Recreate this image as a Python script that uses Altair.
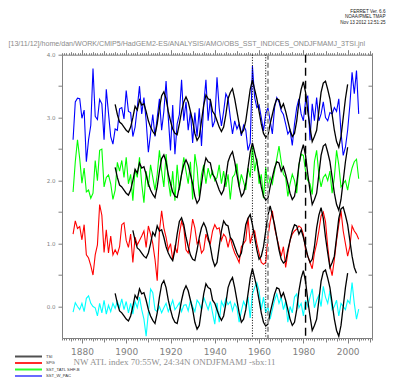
import altair as alt
import pandas as pd

# ---------------- data ----------------
first_year = 1876
sst_w_pac = [2.65, 3.25, 3.31, 3.30,
             2.99, 3.12, 2.30, 2.65, 2.88, 3.78, 3.02, 2.97, 3.29, 3.22,
             2.65, 3.45, 3.07, 2.70, 2.58, 2.82, 2.80, 3.14, 3.16, 2.98,
             3.43, 3.10, 3.08, 2.70, 2.85, 3.16, 3.50, 3.06, 3.32, 2.95,
             2.45, 2.75, 3.05, 2.70, 3.00, 3.30, 2.80, 3.10, 3.58, 3.00,
             2.48, 3.20, 2.42, 2.90, 3.05, 3.60, 2.95, 3.25, 2.80, 3.10,
             2.60, 3.08, 2.70, 3.15, 2.55, 3.20, 3.60, 2.95, 3.30, 2.85,
             2.95, 3.64, 3.15, 2.87, 3.10, 3.38, 3.30, 3.00, 2.74, 2.95,
             2.82, 2.90, 2.71, 2.88, 2.80, 2.48, 2.60, 3.82, 3.32, 3.16,
             3.20, 3.00, 2.79, 3.06, 3.16, 2.95, 2.74, 3.16, 3.32, 3.25,
             3.11, 3.05, 2.90, 2.74, 2.80, 2.56, 2.90, 3.16, 3.30, 3.06,
             2.95, 3.27, 3.35, 2.64, 3.22, 2.95, 3.32, 2.95, 3.06, 3.25,
             3.00, 2.95, 3.08, 3.06, 3.16, 3.10, 3.30, 2.77, 2.40, 2.53,
             2.80, 3.20, 3.72, 3.38, 3.75, 3.06]
sst_tatl = [1.82, 2.30, 2.65, 2.35,
            1.96, 2.20, 1.82, 1.85, 1.72, 1.80, 2.32, 2.00, 2.48, 2.50,
            1.90, 2.05, 2.09, 1.95, 1.70, 1.85, 2.29, 2.15, 2.32, 2.05,
            2.37, 1.95, 2.10, 1.68, 2.18, 2.05, 2.37, 1.95, 1.65, 2.15,
            1.90, 2.25, 2.05, 1.85, 2.10, 2.48, 2.15, 1.90, 2.42, 2.00,
            1.75, 2.15, 1.68, 2.25, 1.85, 2.10, 2.37, 2.15, 1.95, 2.30,
            1.70, 2.42, 2.20, 1.75, 2.10, 2.25, 1.95, 2.20, 2.05, 2.15,
            2.00, 2.05, 2.25, 1.95, 2.15, 1.90, 2.10, 1.70, 2.05, 2.10,
            2.27, 1.90, 2.10, 1.98, 1.85, 2.20, 2.05, 2.55, 2.15, 2.35,
            1.95, 2.10, 1.72, 2.21, 1.88, 2.05, 1.95, 2.15, 2.35, 2.55,
            2.30, 2.10, 2.05, 1.75, 1.95, 2.10, 2.00, 1.80, 2.25, 2.42,
            2.40, 2.15, 2.00, 1.95, 1.78, 2.30, 2.48, 2.10, 1.90, 2.05,
            2.10, 2.00, 2.15, 1.80, 2.05, 2.48, 2.25, 1.90, 1.95, 2.00,
            1.85, 2.05, 2.20, 2.30, 2.34, 2.03]
spg = [1.15, 1.36, 1.24, 1.27,
       1.06, 1.30, 0.82, 0.77, 0.65, 0.50, 0.82, 0.98, 1.62, 1.45,
       0.86, 1.22, 0.85, 1.12, 0.82, 0.90, 0.83, 0.95, 1.30, 1.33,
       1.05, 0.94, 1.15, 0.70, 1.10, 0.98, 1.05, 1.12, 1.20, 0.94,
       1.28, 1.15, 1.00, 0.75, 0.41, 1.20, 1.52, 1.25, 1.10, 0.90,
       1.00, 0.75, 0.95, 0.85, 1.15, 1.35, 1.25, 0.90, 0.85, 1.10,
       1.39, 1.25, 1.00, 1.05, 0.85, 0.90, 1.15, 1.05, 1.00, 1.20,
       1.30, 1.23, 1.25, 1.05, 1.15, 1.10, 0.94, 1.10, 0.95, 0.85,
       0.78, 0.70, 0.95, 1.00, 1.05, 1.41, 1.00, 1.15, 1.20, 1.00,
       0.85, 0.70, 0.67, 0.70, 1.10, 1.35, 1.52, 1.25, 1.10, 0.95,
       0.80, 0.95, 0.62, 0.85, 1.05, 1.15, 1.20, 1.23, 1.28, 1.25,
       1.15, 0.90, 0.80, 0.70, 0.60, 0.85, 1.00, 1.20, 1.44, 1.50,
       1.35, 0.95, 0.65, 0.49, 0.75, 1.05, 1.30, 1.52, 1.20, 1.00,
       0.80, 0.95, 1.28, 1.20, 1.15, 1.07]
nw_atl = [-0.09, 0.06, 0.00, -0.05,
          0.05, -0.08, 0.13, 0.17, 0.05, 0.00, -0.02, -0.15, 0.05, -0.10,
          0.10, -0.12, 0.02, -0.08, 0.05, -0.03, 0.08, -0.02, 0.12, -0.05,
          0.08, -0.10, 0.05, -0.12, 0.08, -0.02, 0.15, -0.05, -0.20, -0.47,
          -0.10, 0.28, 0.22, -0.05, -0.08, 0.00, -0.10, -0.02, 0.05, -0.08,
          0.00, 0.10, -0.05, 0.00, 0.06, -0.08, 0.02, 0.03, -0.07, 0.10,
          0.00, -0.08, 0.10, 0.05, -0.05, 0.15, 0.05, -0.05, 0.08, -0.10,
          -0.28, 0.06, -0.25, 0.08, 0.00, 0.12, 0.03, 0.08, -0.07, 0.05,
          -0.02, -0.25, -0.07, 0.08, 0.00, 0.15, -0.18, 0.20, 0.30, 0.38,
          0.25, -0.05, 0.15, -0.10, 0.00, -0.20, -0.05, 0.10, 0.20, 0.05,
          0.15, -0.05, 0.08, -0.25, 0.00, -0.10, 0.15, 0.20, -0.02, 0.05,
          -0.15, 0.10, 0.00, 0.15, 0.28, -0.02, 0.10, 0.18, 0.00, 0.32,
          0.15, 0.05, 0.25, -0.05, 0.00, 0.10, -0.15, 0.05, 0.00, -0.05,
          0.10, 0.05, 0.38, 0.05, -0.20, -0.04]

tsi_first_year = 1895
tsi = [0.21, 0.05, -0.07, -0.10, -0.15,
       -0.20, -0.23, -0.15, 0.00, 0.18, 0.12, 0.28, 0.20, 0.22, 0.10,
       -0.05, -0.15, -0.22, -0.27, -0.10, 0.15, 0.35, 0.41, 0.30, 0.10,
       -0.05, -0.18, -0.25, -0.27, -0.10, 0.10, 0.25, 0.33, 0.25, 0.10,
       -0.05, -0.25, -0.36, -0.30, -0.05, 0.20, 0.36, 0.30, 0.28, 0.10,
       0.05, -0.05, -0.15, -0.22, -0.15, 0.05, 0.30, 0.40, 0.46, 0.30,
       0.10, -0.10, -0.25, -0.20, -0.05, 0.20, 0.45, 0.60, 0.45, 0.30,
       0.10, -0.10, -0.25, -0.31, -0.28, -0.10, 0.05, 0.20, 0.30, 0.28,
       0.15, 0.22, 0.10, -0.05, -0.20, -0.30, -0.25, -0.05, 0.25, 0.45,
       0.57, 0.40, 0.10, -0.15, -0.38, -0.30, -0.20, 0.10, 0.40, 0.55,
       0.58, 0.45, 0.30, 0.05, -0.20, -0.38, -0.47, -0.30, 0.00, 0.30,
       0.53]
tsi_offsets = [0.0, 1.0, 2.0, 3.0]
tsi_lags = [0, 8, 0, 0]
tsi_last_year = [2000, 2004, 2000, 2000]

marker_dotted = [1957, 1963]
marker_grey = [1964]
marker_dashed = [1981]

series_names = ["SST_W_PAC", "SST_TATL SHF-B", "SPG", "NW_ATL"]
series_colors = ["#0000ff", "#00ff00", "#ff0000", "#00ffff"]
legend_names = ["TSI", "SPG", "SST_TATL SHF-B", "SST_W_PAC"]
legend_colors = ["#505050", "#ff2a2a", "#2aff2a", "#6a6aff"]

header = "[13/11/12]/home/dan/WORK/CMIP5/HadGEM2-ES/ANALYSIS/AMO/OBS_SST_INDICES_ONDJFMAMJ_3TSI.jnl"
stamp = "FERRET Ver. 6.6\nNOAA/PMEL TMAP\nNov 13 2012 12:51:25"
title = "NW ATL index 70:55W, 24:34N ONDJFMAMJ -sbx:11"

x_domain = [1871, 2011]
y_domain = [-0.5, 4.0]
y_ticks = [0.0, 0.5, 1.0, 1.5, 2.0, 2.5, 3.0, 3.5, 4.0]
tick_years = list(range(1871, 2012))

# ---------------- tables ----------------
rows = []
for name, vals in zip(series_names, [sst_w_pac, sst_tatl, spg, nw_atl]):
    for i, v in enumerate(vals):
        rows.append({"year": first_year + i, "value": v, "series": name})
df = pd.DataFrame(rows)

trows = []
for k, (off, lag, last) in enumerate(zip(tsi_offsets, tsi_lags, tsi_last_year)):
    for i, v in enumerate(tsi):
        yr = tsi_first_year + i + lag
        if yr <= last:
            trows.append({"year": yr, "value": v + off, "level": "L%d" % k})
tdf = pd.DataFrame(trows)

W, H = 310, 283.3
GREY = "#808080"
xs = alt.Scale(domain=x_domain, nice=False, zero=False)
ys = alt.Scale(domain=y_domain, nice=False, zero=False)

tick_size_x = {"condition": [{"test": "datum.value % 20 === 0", "value": 5},
                             {"test": "datum.value % 10 === 0", "value": 4},
                             {"test": "datum.value % 5 === 0", "value": 3}],
               "value": 2}

x_bottom = alt.Axis(orient="bottom", values=tick_years, format="d",
                    labelExpr="datum.value % 20 === 0 ? datum.label : ''",
                    tickSize=tick_size_x, labelOverlap=False, labelFont="DejaVu Sans",
                    labelFontSize=9, labelColor=GREY, tickColor=GREY, labelPadding=4,
                    domain=False, grid=False, title=None)
x_top = alt.Axis(orient="top", values=tick_years, labels=False, tickSize=tick_size_x,
                 tickColor=GREY, domain=False, grid=False, title=None)
y_left = alt.Axis(orient="left", values=y_ticks, format=".1f",
                  labelExpr="datum.value % 1 === 0 ? datum.label : ''",
                  tickSize=4, labelFont="DejaVu Sans", labelFontSize=5.5,
                  labelColor=GREY, tickColor=GREY, labelPadding=3,
                  domain=False, grid=False, title=None)
y_right = alt.Axis(orient="left", offset=-W, values=y_ticks, labels=False, tickSize=4,
                   tickColor=GREY, domain=False, grid=False, title=None)

colored = alt.Chart(df).mark_line(strokeWidth=1.1).encode(
    x=alt.X("year:Q", scale=xs, axis=x_bottom),
    y=alt.Y("value:Q", scale=ys, axis=y_left),
    color=alt.Color("series:N", scale=alt.Scale(domain=series_names, range=series_colors), legend=None),
    detail="series:N",
)

black = alt.Chart(tdf).mark_line(strokeWidth=1.3, color="black").encode(
    x=alt.X("year:Q", scale=xs, axis=None),
    y=alt.Y("value:Q", scale=ys, axis=y_right),
    detail="level:N",
)

dotted = alt.Chart(pd.DataFrame({"year": marker_dotted})).mark_rule(
    color="black", strokeWidth=1, strokeDash=[1, 1.6]).encode(
    x=alt.X("year:Q", scale=xs, axis=x_top))
greyd = alt.Chart(pd.DataFrame({"year": marker_grey})).mark_rule(
    color="#9a9a9a", strokeWidth=2, strokeDash=[5, 3]).encode(
    x=alt.X("year:Q", scale=xs, axis=None))
dashed = alt.Chart(pd.DataFrame({"year": marker_dashed})).mark_rule(
    color="black", strokeWidth=1.4, strokeDash=[8, 5]).encode(
    x=alt.X("year:Q", scale=xs, axis=None))

ldf = pd.DataFrame({"name": legend_names, "row": list(range(len(legend_names)))})
ly = alt.Y("row:Q", scale=alt.Scale(domain=[0, 3], range=[301.8, 321.3]), axis=None)
leg_lines = alt.Chart(ldf).mark_rule(strokeWidth=2).encode(
    x=alt.value(-47), x2=alt.value(-20), y=ly,
    color=alt.Color("name:N", scale=alt.Scale(domain=legend_names, range=legend_colors), legend=None),
)
leg_text = alt.Chart(ldf).mark_text(align="left", baseline="middle", font="Liberation Sans",
                                    fontSize=4.2, color="#333333").encode(
    x=alt.value(-16), y=ly, text="name:N")

head = alt.Chart(pd.DataFrame({"t": [header]})).mark_text(
    align="left", baseline="middle", font="Liberation Sans", fontSize=7.1, color="#8a8a8a").encode(
    x=alt.value(-53.5), y=alt.value(-10.7), text="t:N")
stamp_t = alt.Chart(pd.DataFrame({"t": [stamp]})).mark_text(
    align="right", baseline="top", font="Liberation Sans", fontSize=4.6, lineHeight=5.3,
    lineBreak="\n", color="#222222").encode(
    x=alt.value(323.5), y=alt.value(-45.7), text="t:N")
title_t = alt.Chart(pd.DataFrame({"t": [title]})).mark_text(
    align="left", baseline="middle", font="Liberation Serif", fontSize=9.0, color="#8f8f8f").encode(
    x=alt.value(11.5), y=alt.value(307.3), text="t:N")

chart = alt.layer(colored, black, dotted, greyd, dashed, leg_lines, leg_text,
                  head, stamp_t, title_t).resolve_scale(
    x="independent", y="independent", color="independent"
).properties(
    width=W, height=H,
    padding={"left": 54, "top": 46.7, "right": 14, "bottom": 40},
    autosize=alt.AutoSizeParams(type="none"),
).configure_view(stroke=GREY, strokeWidth=1)

chart.save("out.html", embed_options={"renderer": "svg", "actions": False})
